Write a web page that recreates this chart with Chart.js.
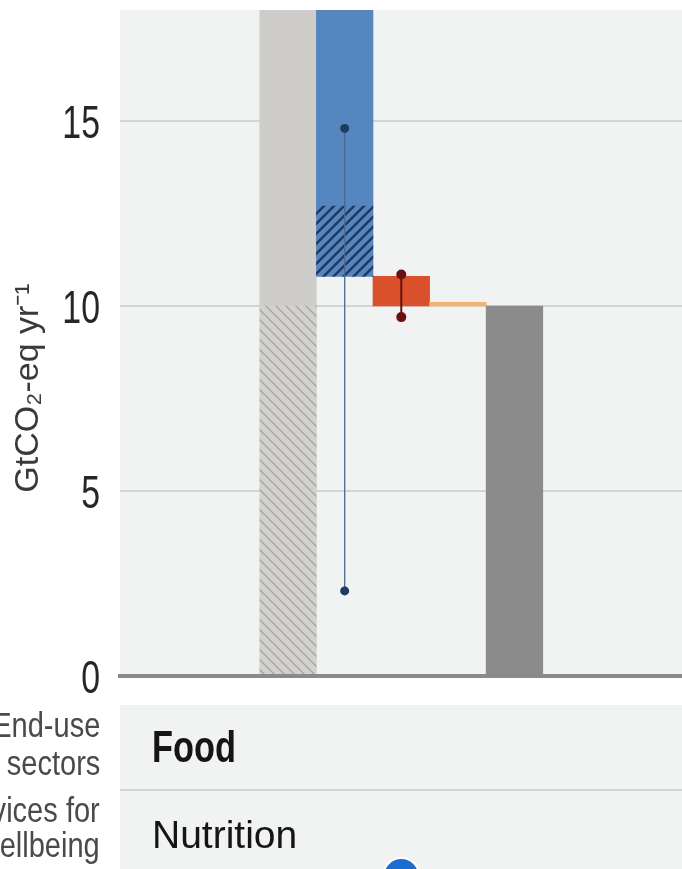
<!DOCTYPE html>
<html>
<head>
<meta charset="utf-8">
<script src="https://cdn.jsdelivr.net/npm/chart.js@4.4.1/dist/chart.umd.min.js"></script>
<style>
  html, body { margin: 0; padding: 0; background: #fff; overflow: hidden; }
  #wrap { position: relative; width: 682px; height: 869px; overflow: hidden; }
  #chart { position: absolute; left: 0; top: 0; z-index: 1; }
  .row { position: absolute; left: 120px; width: 562px; background: #f1f2f2; z-index: 0; }
  .sep { position: absolute; left: 120px; width: 562px; height: 2px; background: #d3d4d4; z-index: 0; }
  .lab { position: absolute; right: 582px; text-align: right; white-space: nowrap; z-index: 2;
         font-family: 'Liberation Sans', Arial, sans-serif; font-size: 35px; color: #4a4a4a;
         transform: scaleX(0.83); transform-origin: right top; }
  .cell { position: absolute; left: 152px; white-space: nowrap; z-index: 2; color: #151515; }
</style>
</head>
<body>
<div id="wrap">
  <div class="row" style="top:705px;height:84px"></div>
  <div class="sep" style="top:789px"></div>
  <div class="row" style="top:791px;height:78px"></div>
  <div class="lab" style="top:706px;line-height:38px">End-use<br>sectors</div>
  <div class="lab" style="top:792px;line-height:35px">Services for<br>wellbeing</div>
  <div class="cell" style="top:725px;font:bold 44px/44px 'Liberation Sans',Arial,sans-serif;transform:scaleX(0.78);transform-origin:left top">Food</div>
  <div class="cell" style="top:815px;font:39px/39px 'Liberation Sans',Arial,sans-serif">Nutrition</div>
  <canvas id="chart" width="682" height="869"></canvas>
</div>
<script>
// Waterfall steps for the food sector (positions 0..4 on the x scale)
const steps = ['Baseline', 'Socio-cultural factors', 'Infrastructure use', 'End-use technology adoption', 'Remaining emissions'];
const stepPos = [0, 1, 2, 3, 4];

// Solid segments [low, high] per step, GtCO2-eq/yr
const solidLow  = [10.0, 12.7, 10.0, 10.0, 0.0];
const solidHigh = [19.0, 19.0, 10.8, 10.1, 10.0];

// Hatched segments [low, high] for the first two steps
const hatchLow  = [0.0, 10.8];
const hatchHigh = [10.0, 12.7];

// Ranges shown as whiskers
const socioRange = [2.3, 14.8];
const infraRange = [9.7, 10.85];

// Steps flagged in the wellbeing row
const wellbeingSteps = [2];

const yTicks = [0, 5, 10, 15];

const colors = ['#cfcdca', '#5586c0', '#d9502a', '#f5b46c', '#8b8b8b'];

function hatch(bg, line, size, lw, dir) {
  const c = document.createElement('canvas');
  c.width = c.height = size;
  const g = c.getContext('2d');
  g.fillStyle = bg;
  g.fillRect(0, 0, size, size);
  g.strokeStyle = line;
  g.lineWidth = lw;
  g.beginPath();
  if (dir === '/') {
    g.moveTo(-1, size + 1); g.lineTo(size + 1, -1);
    g.moveTo(-1, 1); g.lineTo(1, -1);
    g.moveTo(size - 1, size + 1); g.lineTo(size + 1, size - 1);
  } else {
    g.moveTo(-1, -1); g.lineTo(size + 1, size + 1);
    g.moveTo(-1, size - 1); g.lineTo(1, size + 1);
    g.moveTo(size - 1, -1); g.lineTo(size + 1, 1);
  }
  g.stroke();
  return g.createPattern(c, 'repeat');
}

const ctx = document.getElementById('chart').getContext('2d');
const greyHatch = hatch('#d3d1ce', '#a6a4a1', 10, 1.3, '\\');
const blueHatch = hatch('#5586c0', '#1f3a60', 10, 2.4, '/');

const solidData = stepPos.map((x, i) => ({ x, y: [solidLow[i], solidHigh[i]] }));
const hatchData = hatchLow.map((lo, i) => ({ x: stepPos[i], y: [lo, hatchHigh[i]] }));

const panelBg = {
  id: 'panelBg',
  beforeDraw(chart) {
    const { ctx, chartArea: a } = chart;
    ctx.save();
    ctx.fillStyle = '#f1f2f2';
    ctx.fillRect(a.left, a.top, a.right - a.left, a.bottom - a.top);
    ctx.restore();
  }
};

// Narrow tick labels placed at the y scale's tick positions
const tickLabels = {
  id: 'tickLabels',
  afterDraw(chart) {
    const { ctx } = chart;
    const ys = chart.scales.y;
    ctx.save();
    ctx.font = "47px 'Liberation Sans', Arial, sans-serif";
    ctx.fillStyle = '#262626';
    ctx.textAlign = 'right';
    ctx.textBaseline = 'alphabetic';
    ys.ticks.forEach(t => {
      ctx.save();
      ctx.translate(ys.right - 20, ys.getPixelForValue(t.value) + 17);
      ctx.scale(0.72, 1);
      ctx.fillText(String(t.value), 0, 0);
      ctx.restore();
    });
    ctx.restore();
  }
};

const axisTitle = {
  id: 'axisTitle',
  afterDraw(chart) {
    const { ctx } = chart;
    ctx.save();
    ctx.translate(38, 388);
    ctx.rotate(-Math.PI / 2);
    ctx.fillStyle = '#3a3a3a';
    ctx.font = "34px 'Liberation Sans', Arial, sans-serif";
    ctx.textAlign = 'center';
    ctx.textBaseline = 'alphabetic';
    ctx.fillText('GtCO\u2082-eq yr\u207B\u00B9', 0, 0);
    ctx.restore();
  }
};

const wellbeingMarks = {
  id: 'wellbeingMarks',
  afterDraw(chart) {
    const { ctx } = chart;
    const xs = chart.scales.x;
    ctx.save();
    wellbeingSteps.forEach(s => {
      ctx.beginPath();
      ctx.arc(xs.getPixelForValue(s), 876, 18, 0, Math.PI * 2);
      ctx.fillStyle = '#1b6dd2';
      ctx.fill();
      ctx.lineWidth = 2;
      ctx.strokeStyle = '#ffffff';
      ctx.stroke();
    });
    ctx.restore();
  }
};

new Chart(ctx, {
  type: 'bar',
  data: {
    datasets: [
      {
        label: 'Range socio-cultural',
        type: 'line',
        data: socioRange.map(y => ({ x: stepPos[1], y })),
        borderColor: '#4c6990',
        borderWidth: 1.3,
        pointRadius: 4.5,
        pointBackgroundColor: '#1e3c62',
        pointBorderWidth: 0,
        clip: false,
        order: 0
      },
      {
        label: 'Range infrastructure',
        type: 'line',
        data: infraRange.map(y => ({ x: stepPos[2], y })),
        borderColor: '#6a1010',
        borderWidth: 2,
        pointRadius: 5,
        pointBackgroundColor: '#6a1010',
        pointBorderWidth: 0,
        clip: false,
        order: 0
      },
      {
        label: 'Hatched',
        data: hatchData,
        backgroundColor: [greyHatch, blueHatch],
        clip: 0,
        order: 1
      },
      {
        label: 'Solid',
        data: solidData,
        backgroundColor: colors,
        clip: 0,
        order: 2
      }
    ]
  },
  options: {
    responsive: false,
    animation: false,
    events: [],
    layout: { autoPadding: false, padding: { top: 10, bottom: 193, left: 0, right: 0 } },
    plugins: { legend: { display: false }, tooltip: { enabled: false } },
    datasets: {
      bar: { grouped: false, categoryPercentage: 1, barPercentage: 1, borderWidth: 0 }
    },
    scales: {
      x: {
        type: 'linear',
        offset: false,
        min: -2.97,
        max: 6.96,
        ticks: { display: false, stepSize: 1, includeBounds: false },
        grid: { display: false, drawTicks: false },
        border: { display: true, color: '#8a8a8a', width: 4, z: 1 },
        afterFit(s) { s.height = 0; }
      },
      y: {
        min: 0,
        max: 18,
        afterBuildTicks(s) { s.ticks = yTicks.map(v => ({ value: v })); },
        ticks: { display: false },
        grid: { color: '#d3d4d4', lineWidth: 2, drawTicks: false },
        border: { display: false },
        afterFit(s) { s.width = 120; s.paddingTop = 0; s.paddingBottom = 0; }
      }
    }
  },
  plugins: [panelBg, tickLabels, axisTitle, wellbeingMarks]
});
</script>
</body>
</html>
